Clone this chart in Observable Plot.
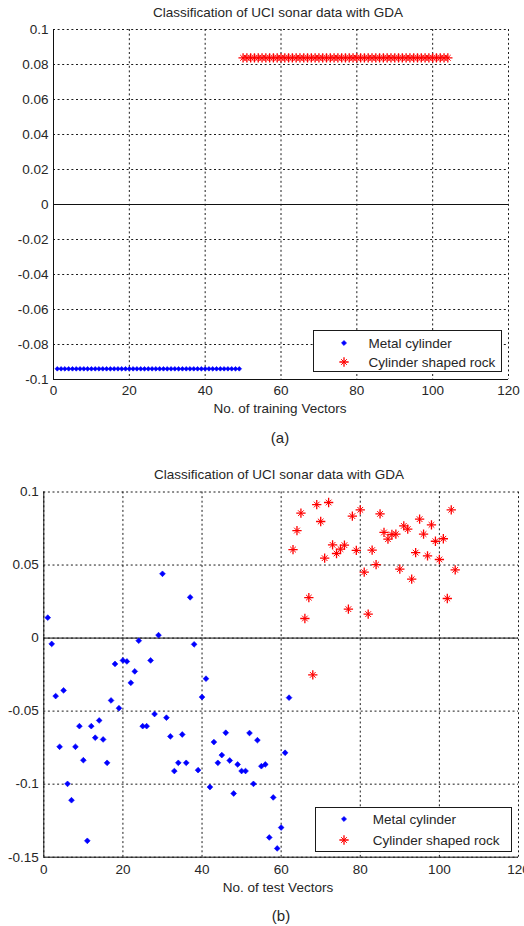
<!DOCTYPE html>
<html><head><meta charset="utf-8">
<script src="https://cdn.jsdelivr.net/npm/d3@7"></script>
<script src="https://cdn.jsdelivr.net/npm/@observablehq/plot@0.6"></script>
<style>
html,body{margin:0;padding:0;background:#fff;}
#wrap{position:relative;width:524px;height:926px;overflow:hidden;font-family:"Liberation Sans",Arial,sans-serif;color:#262626;}
.abs{position:absolute;}
.ctr{position:absolute;transform:translate(-50%,-50%);white-space:nowrap;}
.title{font-size:13.5px;}
.xlab{font-size:13.5px;}
.panel{font-size:15px;}
.legend{position:absolute;border:1px solid #1a1a1a;background:#fff;box-sizing:border-box;font-size:13.5px;}
.legend .row{position:absolute;white-space:nowrap;transform:translateY(-50%);}
.legend svg{position:absolute;overflow:visible;}
</style></head>
<body><div id="wrap"></div>
<script>
// ---- data ----
const seriesNames = ["Metal cylinder", "Cylinder shaped rock"];
const titleText = "Classification of UCI sonar data with GDA";
const xLabelTop = "No. of training Vectors";
const xLabelBottom = "No. of test Vectors";
const panelLabels = ["(a)", "(b)"];

const xTicks = [0, 20, 40, 60, 80, 100, 120];
const xTickLabels = ["0", "20", "40", "60", "80", "100", "120"];
const yTicksTop = [-0.1, -0.08, -0.06, -0.04, -0.02, 0, 0.02, 0.04, 0.06, 0.08, 0.1];
const yTickLabelsTop = ["-0.1", "-0.08", "-0.06", "-0.04", "-0.02", "0", "0.02", "0.04", "0.06", "0.08", "0.1"];
const yTicksBottom = [-0.15, -0.1, -0.05, 0, 0.05, 0.1];
const yTickLabelsBottom = ["-0.15", "-0.1", "-0.05", "0", "0.05", "0.1"];

const trainMetalX = [1,2,3,4,5,6,7,8,9,10,11,12,13,14,15,16,17,18,19,20,21,22,23,24,25,26,27,28,29,30,31,32,33,34,35,36,37,38,39,40,41,42,43,44,45,46,47,48,49];
const trainMetalY = [-0.0939,-0.0939,-0.0939,-0.0939,-0.0939,-0.0939,-0.0939,-0.0939,-0.0939,-0.0939,-0.0939,-0.0939,-0.0939,-0.0939,-0.0939,-0.0939,-0.0939,-0.0939,-0.0939,-0.0939,-0.0939,-0.0939,-0.0939,-0.0939,-0.0939,-0.0939,-0.0939,-0.0939,-0.0939,-0.0939,-0.0939,-0.0939,-0.0939,-0.0939,-0.0939,-0.0939,-0.0939,-0.0939,-0.0939,-0.0939,-0.0939,-0.0939,-0.0939,-0.0939,-0.0939,-0.0939,-0.0939,-0.0939,-0.0939];
const trainRockX = [50,51,52,53,54,55,56,57,58,59,60,61,62,63,64,65,66,67,68,69,70,71,72,73,74,75,76,77,78,79,80,81,82,83,84,85,86,87,88,89,90,91,92,93,94,95,96,97,98,99,100,101,102,103,104];
const trainRockY = [0.0838,0.0838,0.0838,0.0838,0.0838,0.0838,0.0838,0.0838,0.0838,0.0838,0.0838,0.0838,0.0838,0.0838,0.0838,0.0838,0.0838,0.0838,0.0838,0.0838,0.0838,0.0838,0.0838,0.0838,0.0838,0.0838,0.0838,0.0838,0.0838,0.0838,0.0838,0.0838,0.0838,0.0838,0.0838,0.0838,0.0838,0.0838,0.0838,0.0838,0.0838,0.0838,0.0838,0.0838,0.0838,0.0838,0.0838,0.0838,0.0838,0.0838,0.0838,0.0838,0.0838,0.0838,0.0838];

const testMetalX = [1,2,3,4,5,6,7,8,9,10,11,12,13,14,15,16,17,18,19,20,21,22,23,24,25,26,27,28,29,30,31,32,33,34,35,36,37,38,39,40,41,42,43,44,45,46,47,48,49,50,51,52,53,54,55,56,57,58,59,60,61,62];
const testMetalY = [0.014,-0.004,-0.0397,-0.0744,-0.0358,-0.0998,-0.111,-0.0744,-0.0603,-0.0836,
  -0.1388,-0.0603,-0.0682,-0.0564,-0.0694,-0.0854,-0.0427,-0.0177,-0.048,-0.0153,
  -0.016,-0.0306,-0.0228,-0.0018,-0.0603,-0.0603,-0.0153,-0.052,0.002,0.044,
  -0.0545,-0.0673,-0.091,-0.0854,-0.066,-0.0854,0.0279,-0.0043,-0.0904,-0.0404,
  -0.0278,-0.102,-0.0712,-0.0854,-0.0801,-0.0648,-0.0838,-0.1064,-0.0865,-0.091,
  -0.091,-0.065,-0.0998,-0.0699,-0.0877,-0.0865,-0.1365,-0.1091,-0.144,-0.1297,
  -0.0785,-0.0408];
const testRockX = [63,64,65,66,67,68,69,70,71,72,73,74,75,76,77,78,79,80,81,82,83,84,85,86,87,88,89,90,91,92,93,94,95,96,97,98,99,100,101,102,103,104];
const testRockY = [0.0606,0.0736,0.0855,0.0134,0.0277,-0.0252,0.0914,0.0798,0.0547,0.0928,
  0.0638,0.0579,0.0609,0.0636,0.0198,0.0835,0.06,0.0878,0.0451,0.0164,
  0.0602,0.0503,0.085,0.0723,0.0677,0.0709,0.0712,0.0472,0.0768,0.0746,
  0.0403,0.0585,0.0814,0.0712,0.0563,0.0775,0.0663,0.0538,0.068,0.0271,
  0.0878,0.0467];

const BLUE = "#0000ff", RED = "#ff0000";
const toRows = (xs, ys) => xs.map((x, i) => ({x, y: ys[i]}));

function starMarks(data) {
  return [
    Plot.dot(data, {x: "x", y: "y", symbol: "plus", r: 3.1, stroke: RED, strokeWidth: 1.3}),
    Plot.dot(data, {x: "x", y: "y", symbol: "times", r: 2.7, stroke: RED, strokeWidth: 1})
  ];
}

function chart({height, mt, mb, ml, mr, yDomain, yTicks, yLabels, metal, rock, dotR, padX}) {
  return Plot.plot({
    width: 524, height,
    marginTop: mt, marginBottom: mb, marginLeft: ml, marginRight: mr,
    style: {fontFamily: '"Liberation Sans", Arial, sans-serif', fontSize: "13.5px", color: "#262626", background: "transparent", overflow: "visible"},
    x: {domain: [0, 120], ticks: xTicks, tickFormat: d => xTickLabels[xTicks.indexOf(d)], tickSize: 0, tickPadding: padX, label: null},
    y: {domain: yDomain, ticks: yTicks, tickFormat: d => yLabels[yTicks.indexOf(d)], tickSize: 0, tickPadding: 5, label: null},
    marks: [
      Plot.gridX(xTicks, {stroke: "#000", strokeOpacity: 1, strokeWidth: 0.9, strokeDasharray: "2,2.6"}),
      Plot.gridY(yTicks, {stroke: "#000", strokeOpacity: 1, strokeWidth: 0.9, strokeDasharray: "2,2.6"}),
      Plot.ruleY([0], {stroke: "#111", strokeWidth: 1}),
      Plot.ruleX([0], {stroke: "#111", strokeWidth: 1}),
      Plot.ruleY([yDomain[0]], {stroke: "#111", strokeWidth: 1}),
      Plot.dot(metal, {x: "x", y: "y", symbol: "diamond2", r: dotR, fill: BLUE, stroke: BLUE, strokeWidth: 0.6}),
      ...starMarks(rock)
    ]
  });
}

const wrap = document.getElementById("wrap");

const topSvg = chart({height: 420, mt: 29, mb: 41, ml: 53, mr: 16,
  yDomain: [-0.1, 0.1], yTicks: yTicksTop, yLabels: yTickLabelsTop,
  metal: toRows(trainMetalX, trainMetalY), rock: toRows(trainRockX, trainRockY), dotR: 2.1, padX: 6});
topSvg.style.position = "absolute"; topSvg.style.left = "0px"; topSvg.style.top = "0px";
wrap.appendChild(topSvg);

const botSvg = chart({height: 450, mt: 41.5, mb: 43.3, ml: 43.3, mr: 6,
  yDomain: [-0.15, 0.1], yTicks: yTicksBottom, yLabels: yTickLabelsBottom,
  metal: toRows(testMetalX, testMetalY), rock: toRows(testRockX, testRockY), dotR: 2.6, padX: 7});
botSvg.style.position = "absolute"; botSvg.style.left = "0px"; botSvg.style.top = "450px";
wrap.appendChild(botSvg);

function addText(text, cls, cx, cy) {
  const d = document.createElement("div");
  d.className = "ctr " + cls;
  d.style.left = cx + "px"; d.style.top = cy + "px";
  d.textContent = text;
  wrap.appendChild(d);
}
addText(titleText, "title", 278, 12);
addText(xLabelTop, "xlab", 280, 408);
addText(panelLabels[0], "panel", 280, 437);
addText(titleText, "title", 279, 474);
addText(xLabelBottom, "xlab", 278, 887);
addText(panelLabels[1], "panel", 281, 915);

function addLegend(left, top, w, h, rowYs, markX, textX) {
  const L = document.createElement("div");
  L.className = "legend";
  Object.assign(L.style, {left: left + "px", top: top + "px", width: w + "px", height: h + "px"});
  seriesNames.forEach((name, i) => {
    const svg = d3.create("svg").attr("width", 12).attr("height", 12)
      .style("left", (markX - 6) + "px").style("top", (rowYs[i] - 6) + "px");
    const g = svg.append("g").attr("transform", "translate(6,6)");
    if (i === 0) {
      g.append("path").attr("d", d3.symbol(d3.symbolDiamond2, Math.PI * 2.3 * 2.3)()).attr("fill", BLUE).attr("stroke", BLUE).attr("stroke-width", 0.6);
    } else {
      g.append("path").attr("d", d3.symbol(d3.symbolPlus, Math.PI * 3.1 * 3.1)()).attr("fill", "none").attr("stroke", RED).attr("stroke-width", 1.3);
      g.append("path").attr("d", d3.symbol(d3.symbolTimes, Math.PI * 2.7 * 2.7)()).attr("fill", "none").attr("stroke", RED).attr("stroke-width", 1);
    }
    L.appendChild(svg.node());
    const r = document.createElement("div");
    r.className = "row";
    r.style.left = textX + "px"; r.style.top = rowYs[i] + "px";
    r.textContent = name;
    L.appendChild(r);
  });
  wrap.appendChild(L);
}
addLegend(313, 330, 189, 42, [12.3, 30.7], 30, 54.5);
addLegend(314.7, 806.7, 197, 45, [11.3, 32], 28.6, 57);
</script>
</body></html>
